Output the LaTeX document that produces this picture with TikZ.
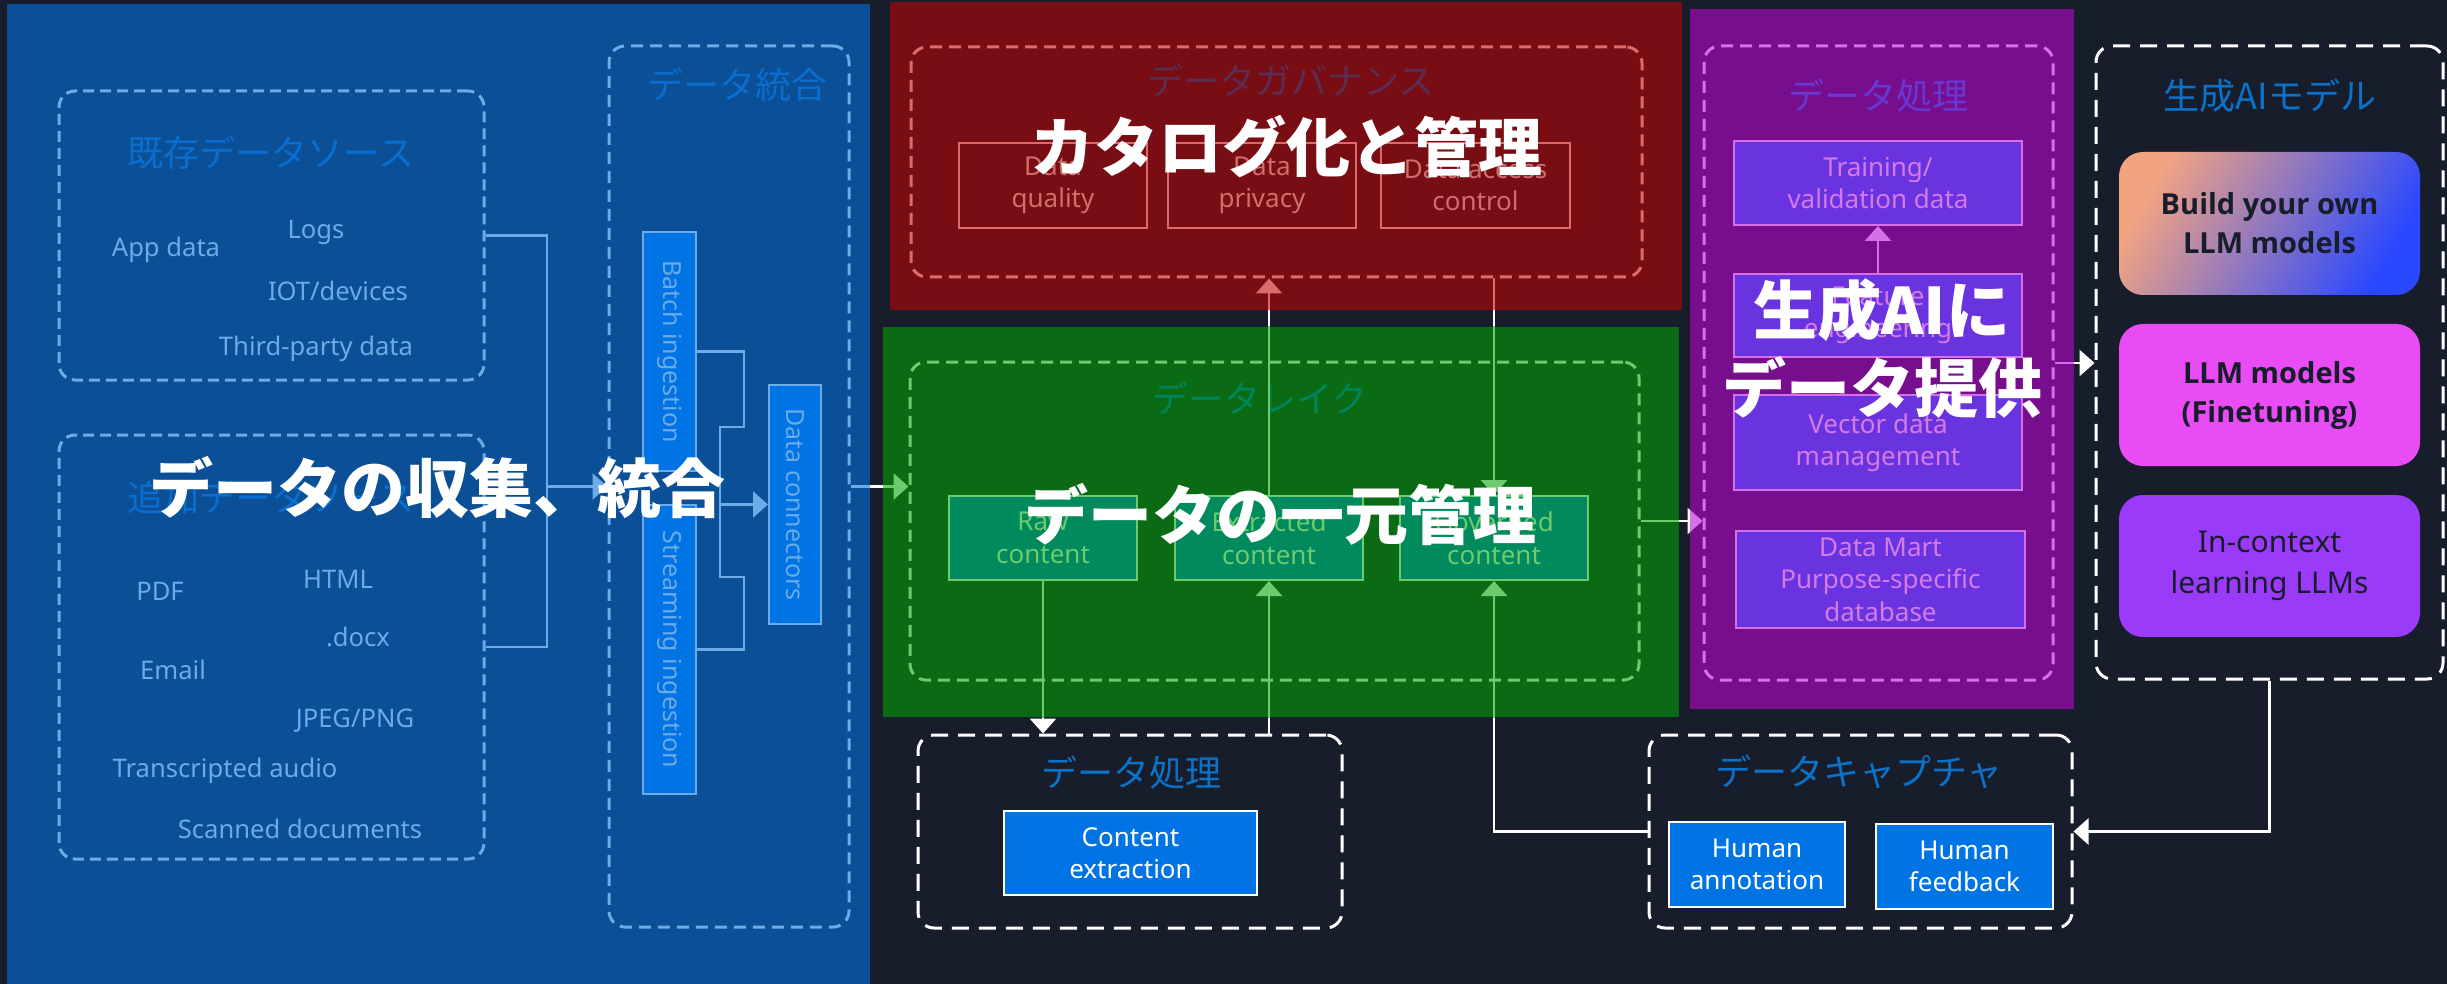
\documentclass[tikz,border=0pt]{standalone}
\usepackage{fontspec}
\setmainfont{Noto Sans}
\newfontfamily\jp{Noto Sans CJK JP}
\newfontfamily\osans{Open Sans}
\usetikzlibrary{arrows.meta}
\definecolor{bg}{HTML}{181D2B}
\definecolor{pblue}{HTML}{0B4F96}
\definecolor{pred}{HTML}{780E13}
\definecolor{pgreen}{HTML}{0B6B14}
\definecolor{ppurple}{HTML}{770E8E}
\definecolor{lblue}{HTML}{6CAAE8}
\definecolor{tblue}{HTML}{0A6ED0}
\definecolor{bxblue}{HTML}{0074E4}
\definecolor{lred}{HTML}{DD6B6B}
\definecolor{tred}{HTML}{5C2C53}
\definecolor{txred}{HTML}{CF6E6E}
\definecolor{lgreen}{HTML}{6DCB6D}
\definecolor{tgreen}{HTML}{00845A}
\definecolor{bxgreen}{HTML}{008A5E}
\definecolor{lpurple}{HTML}{D670E6}
\definecolor{tpurple}{HTML}{6838D2}
\definecolor{bxpurple}{HTML}{6A33E0}
\definecolor{txpurple}{HTML}{D57BE8}
\definecolor{tdark}{HTML}{0A72C8}
\definecolor{gpeach}{HTML}{F2A482}
\definecolor{gmid}{HTML}{8C7CD8}
\definecolor{gblue}{HTML}{2948FF}
\definecolor{ftpink}{HTML}{E94BF5}
\definecolor{iclpurple}{HTML}{9A3BFA}
\definecolor{darktext}{HTML}{181D2B}
\newcommand\mkbox[7]{%
 \edef\mkW{\fpeval{(#5-#3)/2}}\edef\mkH{\fpeval{(#6-#4)/2}}%
 \edef\mkX{\fpeval{(#3+#5)/2}}\edef\mkY{\fpeval{(#4+#6)/2}}%
 \node[#1,minimum width=\mkW pt,minimum height=\mkH pt] (#2) at (\mkX,\mkY) {#7};}
\tikzset{
 panel/.style={inner sep=0pt,outer sep=0pt,draw=none},
 dbox/.style={line width=1.5pt,dash pattern=on 6pt off 3.5pt,rounded corners=8pt,inner sep=0pt},
 wbox/.style={draw=white,line width=1.5pt,dash pattern=on 8.5pt off 5pt,rounded corners=8pt,inner sep=0pt},
 ttl/.style={font=\jp\fontsize{18}{20}\selectfont,inner sep=0pt},
 lbl/.style={font=\fontsize{12.8}{15}\selectfont,text=lblue,inner sep=0pt},
 inbox/.style={font=\fontsize{13}{16.25}\selectfont,align=center,inner sep=0pt,line width=1pt},
 vbox/.style={inbox,fill=bxblue,draw=lblue},
 vtxt/.style={font=\fontsize{12.5}{15}\selectfont,text=lblue,rotate=-90,inner sep=0pt},
 gbox/.style={inbox,draw=lred,text=txred},
 lbox/.style={inbox,draw=lgreen,fill=bxgreen,text=lgreen},
 ubox/.style={inbox,draw=lpurple,fill=bxpurple,text=txpurple},
 wbx/.style={inbox,draw=white,fill=bxblue,text=white},
 gen/.style={rounded corners=12pt,inner sep=0pt,align=center,text=darktext,font=\osans\bfseries\fontsize{14.5}{19.5}\selectfont},
 genr/.style={rounded corners=12pt,inner sep=0pt,align=center,text=darktext,font=\fontsize{15}{20.5}\selectfont},
 bigtxt/.style={font=\jp\bfseries\fontsize{32}{39}\selectfont,text=white,inner sep=0pt,align=center},
 cn/.style={line width=1.4pt},
 ar/.style={-{Triangle[length=7.5pt,width=13pt]}},
}
\newcommand\conns[1]{%
 \draw[cn,#1] (src1.east) -- (src1.east -| b1) -- (src2.east -| b1) -- (src2.east);
 \draw[cn,ar,#1] (b1 |- integ.west) -- (integ.west);
 \draw[cn,#1] (batch.east) -| (k1) -- (k2) -- (k3) -- (k4) |- (strm.east);
 \draw[cn,ar,#1] (k2 |- dconn.west) -- (dconn.west);
 \draw[cn,ar,#1] (integ.east) -- (lake.west |- integ.east);
 \draw[cn,ar,#1] (raw.south) -- (raw.south |- proc1.north);
 \draw[cn,ar,#1] (extr.south |- proc1.north) -- (extr.south);
 \draw[cn,ar,#1] (extr.north) -- (extr.north |- gov.south);
 \draw[cn,ar,#1] (govd.north |- gov.south) -- (govd.north);
 \draw[cn,ar,#1] (capture.west) -| (govd.south);
 \draw[cn,ar,#1] (lake.east) -- (proc2.west |- lake.east);
 \draw[cn,ar,#1] (proc2.east |- c10) -- (genai.west |- c10);
 \draw[cn,ar,#1] (genai.south) |- (capture.east);
 \draw[cn,ar,#1] (feat.north) -- (train.south);
}
\begin{document}
\begin{tikzpicture}[x=0.5pt,y=-0.5pt]
\useasboundingbox (0,0) rectangle (2447,984);
\fill[bg] (0,0) rectangle (2447,984);
% panels
\mkbox{panel,fill=pblue}{pB}{7}{4}{870}{984}{}
\mkbox{panel,fill=pred}{pR}{890}{2}{1682}{310}{}
\mkbox{panel,fill=pgreen}{pG}{883}{327}{1679}{717}{}
\mkbox{panel,fill=ppurple}{pP}{1690}{9}{2074}{709}{}
% dashed group boxes
\mkbox{dbox,draw=lblue,dash pattern=on 5.5pt off 3pt}{src1}{59}{91}{484}{380}{}
\mkbox{dbox,draw=lblue,dash pattern=on 5.5pt off 3pt}{src2}{59}{435}{484}{859}{}
\mkbox{dbox,draw=lblue}{integ}{609}{46}{849}{927}{}
\mkbox{dbox,draw=lred}{gov}{911}{47}{1642}{277}{}
\mkbox{dbox,draw=lgreen}{lake}{910}{362}{1639}{680}{}
\mkbox{dbox,draw=lpurple}{proc2}{1704}{46}{2053}{680}{}
\mkbox{wbox}{genai}{2096}{46}{2443}{679}{}
\mkbox{wbox}{proc1}{918}{735}{1342}{928}{}
\mkbox{wbox}{capture}{1649}{735}{2072}{928}{}
% titles
\node[ttl,text=tblue] (t1) at (271,153) {既存データソース};
\node[ttl,text=tblue] (t2) at (271,498) {追加データソース};
\node[ttl,text=tblue] (t3) at (737,85) {データ統合};
\node[ttl,text=tred] (t4) at (1291,80) {データガバナンス};
\node[ttl,text=tgreen] (t5) at (1260,398) {データレイク};
\node[ttl,text=tpurple] (t6) at (1878,96) {データ処理};
\node[ttl,text=tdark] (t7) at (2270,96) {生成AIモデル};
\node[ttl,text=tdark] (t8) at (1131,773) {データ処理};
\node[ttl,text=tdark] (t9) at (1859,772) {データキャプチャ};
% source labels
\node[lbl] (l1) at (166,250) {App data};
\node[lbl] (l2) at (316,232) {Logs};
\node[lbl] (l3) at (338,291) {IOT/devices};
\node[lbl] (l4) at (316,349) {Third-party data};
\node[lbl] (l5) at (160,591) {PDF};
\node[lbl] (l6) at (338,579) {HTML};
\node[lbl] (l7) at (358,637) {.docx};
\node[lbl] (l8) at (173,670) {Email};
\node[lbl] (l9) at (355,721) {JPEG/PNG};
\node[lbl] (l10) at (225,771) {Transcripted audio};
\node[lbl] (l11) at (300,829) {Scanned documents};
% ingestion boxes
\mkbox{vbox}{batch}{643}{232}{696}{471}{}
\mkbox{vbox}{strm}{643}{505}{696}{794}{}
\mkbox{vbox}{dconn}{769}{385}{821}{624}{}
\node[vtxt] (batcht) at (batch.center) {Batch ingestion};
\node[vtxt] (strmt) at (strm.center) {Streaming ingestion};
\node[vtxt] (dconnt) at (dconn.center) {Data connectors};
% governance
\mkbox{gbox}{dq}{959}{143}{1147}{228}{Data\\quality}
\mkbox{gbox}{dp}{1168}{143}{1356}{228}{Data\\privacy}
\mkbox{gbox}{dac}{1381}{143}{1570}{228}{Data access\\control}
% lake
\mkbox{lbox}{raw}{949}{496}{1137}{580}{Raw\\content}
\mkbox{lbox}{extr}{1175}{496}{1363}{580}{Extracted\\content}
\mkbox{lbox}{govd}{1400}{496}{1588}{580}{Governed\\content}
% purple processing
\mkbox{ubox}{train}{1734}{141}{2022}{225}{Training/\\validation data}
\mkbox{ubox}{feat}{1734}{274}{2022}{357}{Feature\\engineering}
\mkbox{ubox}{vec}{1734}{395}{2022}{490}{Vector data\\management}
\mkbox{ubox}{mart}{1736}{531}{2025}{628}{Data Mart\\Purpose-specific\\database}
% gen AI models
\mkbox{gen,shade,top color=gpeach,middle color=gmid,bottom color=gblue,shading angle=60}{build}{2119}{152}{2420}{295}{Build your own\\LLM models}
\mkbox{gen,fill=ftpink}{ft}{2119}{324}{2420}{466}{LLM models\\(Finetuning)}
\mkbox{genr,fill=iclpurple}{icl}{2119}{495}{2420}{637}{In-context\\learning LLMs}
% bottom boxes
\mkbox{wbx}{cext}{1004}{811}{1257}{895}{Content\\extraction}
\mkbox{wbx}{hann}{1669}{822}{1845}{907}{Human\\annotation}
\mkbox{wbx}{hfb}{1876}{824}{2053}{909}{Human\\feedback}
% connector helper coordinates
\coordinate (b1) at (547,0);
\coordinate (k1) at (744,427);
\coordinate (k2) at (720,427);
\coordinate (k3) at (720,577);
\coordinate (k4) at (744,577);
\coordinate (c10) at (0,363);
% connectors: white outside panels, tinted inside
\begin{scope}[even odd rule]
 \clip (0,0) rectangle (2447,984)
  (pB.north west) rectangle (pB.south east)
  (pR.north west) rectangle (pR.south east)
  (pG.north west) rectangle (pG.south east)
  (pP.north west) rectangle (pP.south east);
 \conns{white}
\end{scope}
\begin{scope}
 \clip (pB.north west) rectangle (pB.south east);
 \conns{lblue}
\end{scope}
\begin{scope}
 \clip (pR.north west) rectangle (pR.south east);
 \conns{lred}
\end{scope}
\begin{scope}
 \clip (pG.north west) rectangle (pG.south east);
 \conns{lgreen}
\end{scope}
\begin{scope}
 \clip (pP.north west) rectangle (pP.south east);
 \conns{lpurple}
\end{scope}
% overlay captions
\node[bigtxt] (ov1) at (437,488) {データの収集、統合};
\node[bigtxt] (ov2) at (1286,147) {カタログ化と管理};
\node[bigtxt] (ov3) at (1280,515) {データの一元管理};
\node[bigtxt] (ov4) at (1882,349) {生成AIに\\データ提供};
\end{tikzpicture}
\end{document}
